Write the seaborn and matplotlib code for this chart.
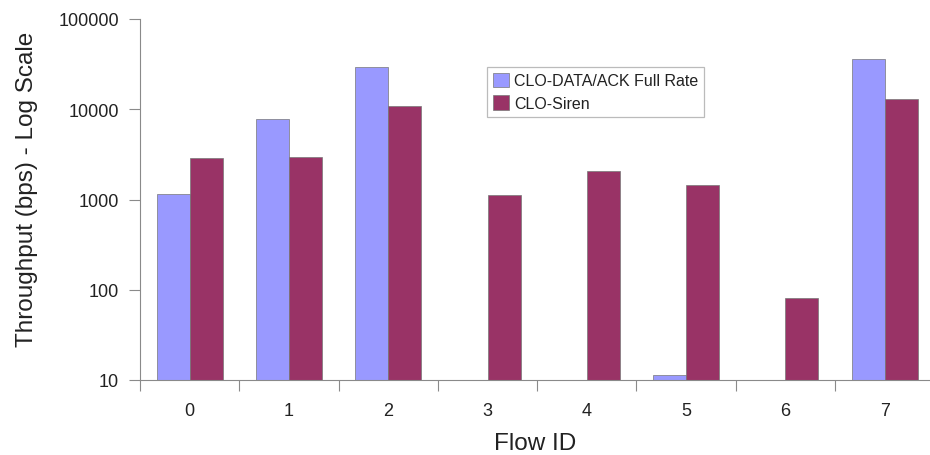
import numpy as np
import pandas as pd
import matplotlib
matplotlib.use("Agg")
import matplotlib.pyplot as plt
import seaborn as sns
from matplotlib.ticker import FixedLocator, NullLocator, FixedFormatter

# Throughput per flow (bps); NaN where the flow got no throughput
flow_ids = ["0", "1", "2", "3", "4", "5", "6", "7"]
full_rate = [1150, 7870, 29150, np.nan, np.nan, 11.4, np.nan, 36000]
siren = [2860, 2985, 10770, 1110, 2050, 1450, 80.4, 13000]
series_names = ["CLO-DATA/ACK Full Rate", "CLO-Siren"]
y_ticks = [10, 100, 1000, 10000, 100000]
y_tick_labels = ["10", "100", "1000", "10000", "100000"]

df = pd.DataFrame({
    "Flow ID": flow_ids * 2,
    "Throughput": full_rate + siren,
    "Series": [series_names[0]] * len(flow_ids) + [series_names[1]] * len(flow_ids),
})

sns.set_theme(style="white")
plt.rcParams["font.family"] = ["Liberation Sans", "DejaVu Sans"]

fig = plt.figure(figsize=(9.3, 4.56), dpi=100)
ax = fig.add_axes([140 / 930, 1 - 381 / 456, 790 / 930, 361 / 456])
ax.set_yscale("log")

palette = {series_names[0]: "#9999FF", series_names[1]: "#993366"}
sns.barplot(data=df, x="Flow ID", y="Throughput", hue="Series",
            order=flow_ids, hue_order=series_names, palette=palette,
            width=0.665, gap=0, saturation=1, edgecolor="#777777",
            linewidth=0.5, ax=ax, errorbar=None)

ax.set_ylim(10, 100000)
ax.set_xlim(-0.5, 7.456)

# y axis: decade ticks with plain labels
ax.yaxis.set_major_locator(FixedLocator(y_ticks))
ax.yaxis.set_major_formatter(FixedFormatter(y_tick_labels))
ax.yaxis.set_minor_locator(NullLocator())
ax.tick_params(axis="y", which="major", length=8, width=0.8, color="#8a8a8a",
               pad=7, labelsize=13, labelcolor="#222222", left=True)

# x axis: ticks between categories, labels centred on categories
n = len(flow_ids)
ax.xaxis.set_major_locator(FixedLocator([i - 0.5 for i in range(n)]))
ax.xaxis.set_major_formatter(FixedFormatter([""] * n))
ax.xaxis.set_minor_locator(FixedLocator(list(range(n))))
ax.xaxis.set_minor_formatter(FixedFormatter(flow_ids))
ax.tick_params(axis="x", which="major", length=8, width=0.8, color="#8a8a8a",
               bottom=True)
ax.tick_params(axis="x", which="minor", length=0, pad=16, labelsize=13,
               labelcolor="#222222", bottom=True)

for side in ["top", "right"]:
    ax.spines[side].set_visible(False)
for side in ["left", "bottom"]:
    ax.spines[side].set_color("#8a8a8a")
    ax.spines[side].set_linewidth(0.8)

ax.set_ylabel("Throughput (bps) - Log Scale", fontsize=17.5, color="#222222")
ax.yaxis.set_label_coords(-0.129, 0.53)
ax.set_xlabel("Flow ID", fontsize=17.5, color="#222222")
ax.xaxis.set_label_coords(0.5, -0.143)

leg = ax.legend(loc="upper left", bbox_to_anchor=((487 - 140) / 790, (381 - 68) / 361),
                frameon=True, fancybox=False, shadow=False, fontsize=11.5,
                handlelength=1.0, handleheight=1.0, handletextpad=0.35,
                borderpad=0.35, labelspacing=0.45, borderaxespad=0)
leg.get_frame().set_edgecolor("#aaaaaa")
leg.get_frame().set_linewidth(0.9)
for t in leg.get_texts():
    t.set_color("#222222")

fig.savefig("out.png", dpi=100)
